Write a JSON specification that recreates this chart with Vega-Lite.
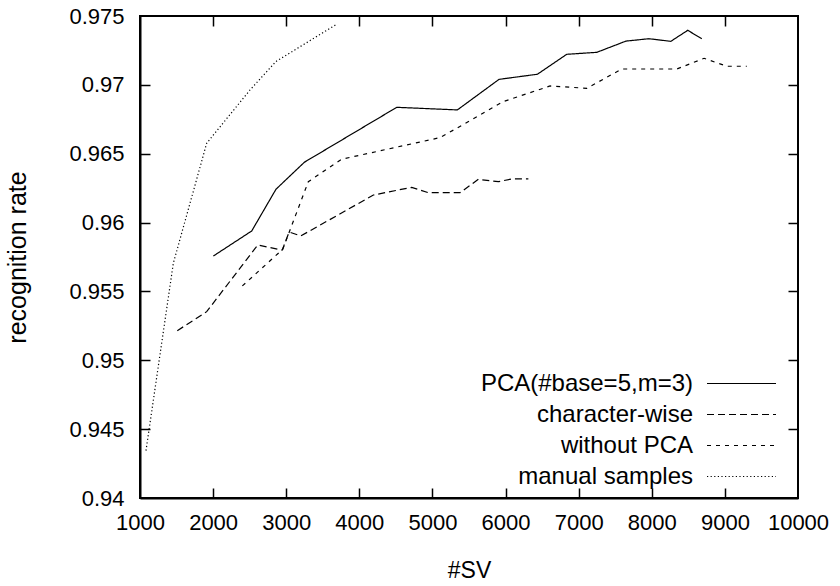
{
  "$schema": "https://vega.github.io/schema/vega-lite/v6.json",
  "autosize": {"type": "none"},
  "padding": {"left": 140, "top": 16, "right": 42, "bottom": 88},
  "width": 658,
  "height": 482,
  "background": "white",
  "config": {
    "font": "Liberation Sans",
    "view": {"stroke": "black", "strokeWidth": 2},
    "axis": {
      "domainColor": "black", "domainWidth": 2,
      "ticks": false, "grid": false,
      "labelFontSize": 22, "labelColor": "black", "labelFont": "Liberation Sans",
      "labelOverlap": false, "labelBound": false, "labelFlush": false,
      "titleFontSize": 22, "titleFontWeight": "normal", "titleColor": "black", "titleFont": "Liberation Sans"
    }
  },
  "datasets": {
    "main": [
      {"series": "PCA(#base=5,m=3)", "x": 2003, "y": 0.95757},
      {"series": "PCA(#base=5,m=3)", "x": 2528, "y": 0.95939},
      {"series": "PCA(#base=5,m=3)", "x": 2860, "y": 0.96242},
      {"series": "PCA(#base=5,m=3)", "x": 3248, "y": 0.96438},
      {"series": "PCA(#base=5,m=3)", "x": 4512, "y": 0.96837},
      {"series": "PCA(#base=5,m=3)", "x": 5341, "y": 0.96818},
      {"series": "PCA(#base=5,m=3)", "x": 5911, "y": 0.9704},
      {"series": "PCA(#base=5,m=3)", "x": 6435, "y": 0.97077},
      {"series": "PCA(#base=5,m=3)", "x": 6837, "y": 0.97222},
      {"series": "PCA(#base=5,m=3)", "x": 7247, "y": 0.97236},
      {"series": "PCA(#base=5,m=3)", "x": 7648, "y": 0.97318},
      {"series": "PCA(#base=5,m=3)", "x": 7963, "y": 0.97335},
      {"series": "PCA(#base=5,m=3)", "x": 8260, "y": 0.97316},
      {"series": "PCA(#base=5,m=3)", "x": 8492, "y": 0.97396},
      {"series": "PCA(#base=5,m=3)", "x": 8684, "y": 0.97335},
      {"series": "character-wise", "x": 1510, "y": 0.95215},
      {"series": "character-wise", "x": 1912, "y": 0.95353},
      {"series": "character-wise", "x": 2610, "y": 0.95837},
      {"series": "character-wise", "x": 2945, "y": 0.958},
      {"series": "character-wise", "x": 3040, "y": 0.95932},
      {"series": "character-wise", "x": 3200, "y": 0.95903},
      {"series": "character-wise", "x": 4192, "y": 0.962},
      {"series": "character-wise", "x": 4716, "y": 0.96256},
      {"series": "character-wise", "x": 4944, "y": 0.96217},
      {"series": "character-wise", "x": 5378, "y": 0.96217},
      {"series": "character-wise", "x": 5628, "y": 0.96314},
      {"series": "character-wise", "x": 5902, "y": 0.96297},
      {"series": "character-wise", "x": 6085, "y": 0.96317},
      {"series": "character-wise", "x": 6312, "y": 0.96317},
      {"series": "without PCA", "x": 2400, "y": 0.9554},
      {"series": "without PCA", "x": 2952, "y": 0.95806},
      {"series": "without PCA", "x": 3302, "y": 0.96297},
      {"series": "without PCA", "x": 3759, "y": 0.9646},
      {"series": "without PCA", "x": 5104, "y": 0.96617},
      {"series": "without PCA", "x": 5332, "y": 0.96685},
      {"series": "without PCA", "x": 5966, "y": 0.96878},
      {"series": "without PCA", "x": 6609, "y": 0.96992},
      {"series": "without PCA", "x": 7111, "y": 0.96975},
      {"series": "without PCA", "x": 7589, "y": 0.97115},
      {"series": "without PCA", "x": 8342, "y": 0.97115},
      {"series": "without PCA", "x": 8716, "y": 0.97193},
      {"series": "without PCA", "x": 9026, "y": 0.97135},
      {"series": "without PCA", "x": 9300, "y": 0.97135},
      {"series": "manual samples", "x": 1082, "y": 0.94344},
      {"series": "manual samples", "x": 1456, "y": 0.95705},
      {"series": "manual samples", "x": 1912, "y": 0.96576},
      {"series": "manual samples", "x": 2505, "y": 0.96963},
      {"series": "manual samples", "x": 2860, "y": 0.9717},
      {"series": "manual samples", "x": 3690, "y": 0.9744}
    ]
  },
  "layer": [
    {
      "data": {"name": "main"},
      "mark": {"type": "line", "color": "black", "strokeWidth": 1.2},
      "encoding": {
        "x": {"field": "x", "type": "quantitative",
          "scale": {"domain": [1000, 10000], "nice": false, "zero": false},
          "axis": {"orient": "bottom", "values": [1000,2000,3000,4000,5000,6000,7000,8000,9000,10000], "format": "d", "labelPadding": 14, "title": "#SV", "titlePadding": 26, "titleFontSize": 23}},
        "y": {"field": "y", "type": "quantitative",
          "scale": {"domain": [0.94, 0.975], "nice": false, "zero": false},
          "axis": {"orient": "left", "values": [0.94,0.945,0.95,0.955,0.96,0.965,0.97,0.975], "format": ".3~f", "labelPadding": 16, "title": "recognition rate", "titlePadding": 38, "titleFontSize": 25}},
        "strokeDash": {"field": "series", "type": "nominal",
          "scale": {"domain": ["PCA(#base=5,m=3)", "character-wise", "without PCA", "manual samples"],
                    "range": [[1, 0], [7, 4], [4, 5], [1.2, 2.4]]},
          "legend": {"title": null, "orient": "none", "legendX": 566, "legendY": 355,
            "symbolType": "M-1,0H5", "symbolSize": 529, "symbolStrokeWidth": 1.2, "symbolStrokeColor": "black", "symbolFillColor": "transparent",
            "labelAlign": "right", "labelOffset": -38, "labelFontSize": 24, "labelColor": "black", "labelFont": "Liberation Sans",
            "rowPadding": 6, "labelLimit": 400}}
      }
    },
    {
      "data": {"name": "main"},
      "mark": {"type": "line", "opacity": 0},
      "encoding": {
        "x": {"field": "x", "type": "quantitative",
          "axis": {"orient": "bottom", "offset": -10, "values": [2000,3000,4000,5000,6000,7000,8000,9000], "labels": false, "domain": false, "ticks": true, "tickSize": 10, "tickWidth": 1.5, "tickColor": "black", "title": null}},
        "y": {"field": "y", "type": "quantitative",
          "axis": {"orient": "left", "offset": -10, "values": [0.945,0.95,0.955,0.96,0.965,0.97], "labels": false, "domain": false, "ticks": true, "tickSize": 10, "tickWidth": 1.5, "tickColor": "black", "title": null}},
        "detail": {"field": "series"}
      }
    },
    {
      "data": {"name": "main"},
      "mark": {"type": "line", "opacity": 0},
      "encoding": {
        "x": {"field": "x", "type": "quantitative",
          "axis": {"orient": "top", "offset": -10, "values": [2000,3000,4000,5000,6000,7000,8000,9000], "labels": false, "domain": false, "ticks": true, "tickSize": 10, "tickWidth": 1.5, "tickColor": "black", "title": null}},
        "y": {"field": "y", "type": "quantitative",
          "axis": {"orient": "right", "offset": -10, "values": [0.945,0.95,0.955,0.96,0.965,0.97], "labels": false, "domain": false, "ticks": true, "tickSize": 10, "tickWidth": 1.5, "tickColor": "black", "title": null}},
        "detail": {"field": "series"}
      }
    }
  ],
  "resolve": {"axis": {"x": "independent", "y": "independent"}}
}
